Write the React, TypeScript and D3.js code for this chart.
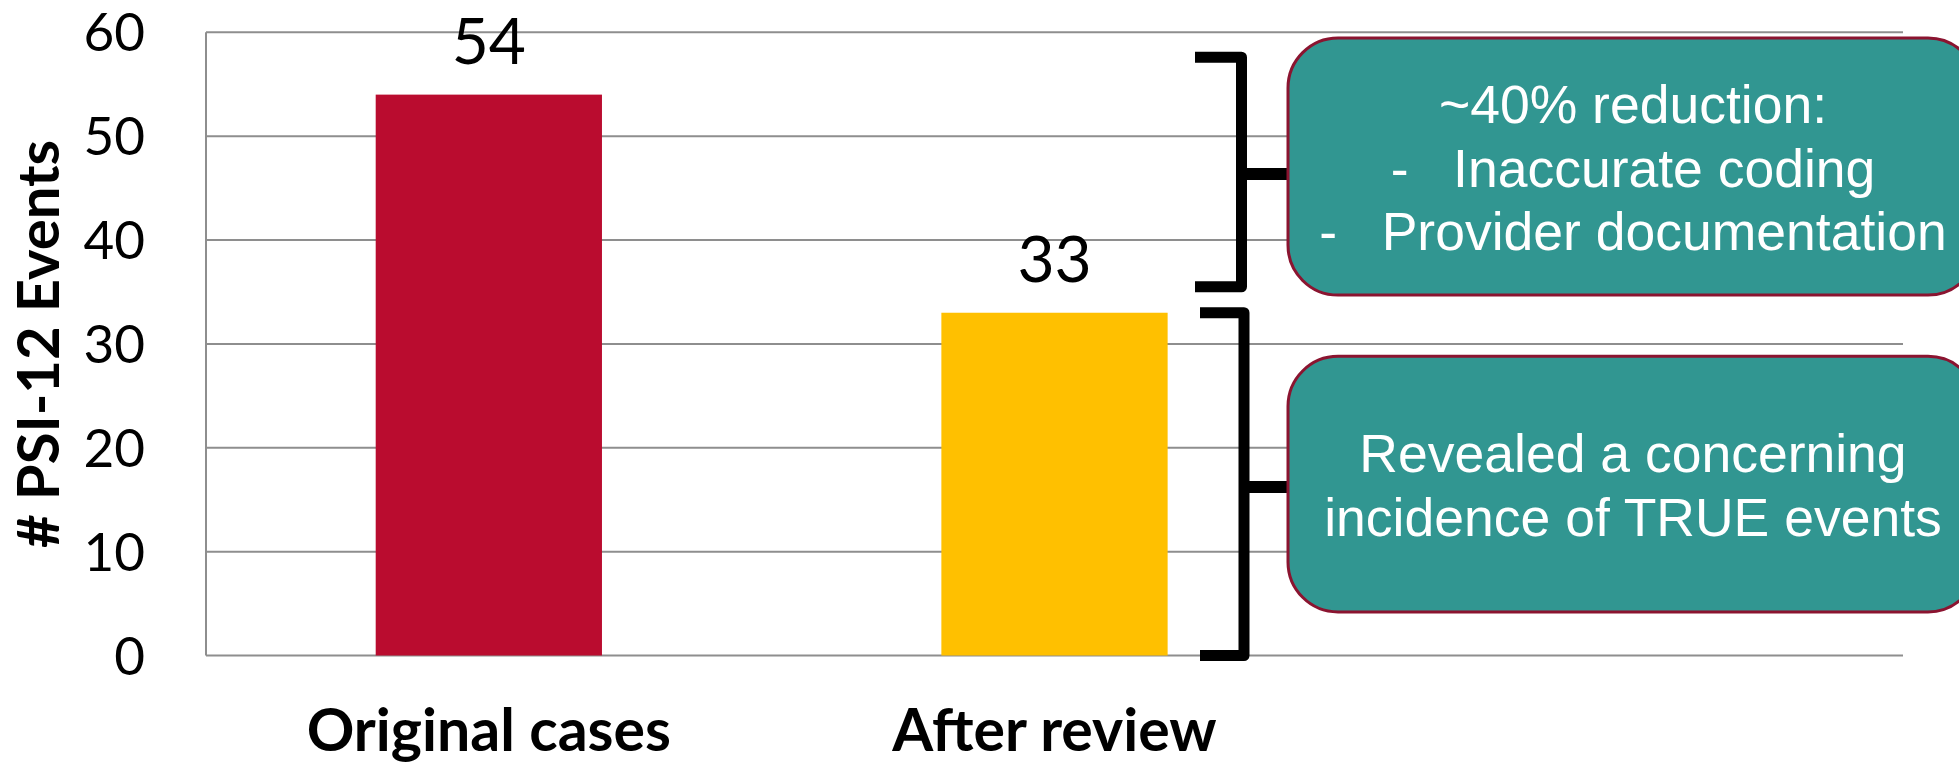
import { useEffect, useRef } from 'react'
import * as d3 from 'd3'

const categories = ['Original cases', 'After review']
const values = [54, 33]
const barColors = ['#BA0C2F', '#FFC000']
const yTicks = [0, 10, 20, 30, 40, 50, 60]
const yTitle = '# PSI-12 Events'

// callouts: bracket span and box span in data units, plus box text
const noteSpans = [[35.5, 57.6], [0, 33]]
const noteBoxes = [[34.7, 59.45], [4.2, 28.8]]
const noteLines = [
  ['~40% reduction:', '-\u00a0\u00a0\u00a0Inaccurate coding', '-\u00a0\u00a0\u00a0Provider documentation'],
  ['Revealed a concerning', 'incidence of TRUE events'],
]

export default function App() {
  const ref = useRef<SVGSVGElement>(null)

  useEffect(() => {
    if (!ref.current) return
    const width = 1959, height = 768
    const margin = { top: 32.3, right: 56, bottom: 112.5, left: 206 }
    const svg = d3.select(ref.current)
    svg.selectAll('*').remove()

    const plotRight = width - margin.right
    const x = d3.scaleBand()
      .domain(categories)
      .range([margin.left, margin.left + (plotRight - margin.left) * 2 / 3])
      .paddingInner(0.6)
      .paddingOuter(0.3)

    const y = d3.scaleLinear()
      .domain([0, 60])
      .range([height - margin.bottom, margin.top])

    // gridlines
    svg.append('g')
      .selectAll('line')
      .data(yTicks)
      .join('line')
      .attr('x1', margin.left)
      .attr('x2', plotRight)
      .attr('y1', d => y(d))
      .attr('y2', d => y(d))
      .attr('stroke', '#8e8e8e')
      .attr('stroke-width', 2)

    svg.append('line')
      .attr('x1', margin.left).attr('x2', margin.left)
      .attr('y1', y(60)).attr('y2', y(0))
      .attr('stroke', '#8e8e8e')
      .attr('stroke-width', 2)

    // tick labels
    svg.append('g')
      .selectAll('text')
      .data(yTicks)
      .join('text')
      .attr('x', 145)
      .attr('y', d => y(d))
      .attr('dy', '0.36em')
      .attr('text-anchor', 'end')
      .style('font-family', 'Lato, sans-serif')
      .style('font-size', '53px')
      .text(d => d)

    // bars
    svg.append('g')
      .selectAll('rect')
      .data(values)
      .join('rect')
      .attr('x', (d, i) => x(categories[i]))
      .attr('y', d => y(d))
      .attr('width', x.bandwidth())
      .attr('height', d => y(0) - y(d))
      .attr('fill', (d, i) => barColors[i])

    // value labels
    svg.append('g')
      .selectAll('text')
      .data(values)
      .join('text')
      .attr('x', (d, i) => x(categories[i]) + x.bandwidth() / 2)
      .attr('y', d => y(d) - 31)
      .attr('text-anchor', 'middle')
      .style('font-family', 'Lato, sans-serif')
      .style('font-size', '64px')
      .text(d => d)

    // category labels
    svg.append('g')
      .selectAll('text')
      .data(categories)
      .join('text')
      .attr('x', d => x(d) + x.bandwidth() / 2)
      .attr('y', 751)
      .attr('text-anchor', 'middle')
      .style('font-family', 'Lato, sans-serif')
      .style('font-weight', 'bold')
      .style('font-size', '59px')
      .text(d => d)

    // y title
    svg.append('text')
      .attr('transform', `translate(59,${(y(0) + y(60)) / 2}) rotate(-90)`)
      .attr('text-anchor', 'middle')
      .style('font-family', 'Lato, sans-serif')
      .style('font-weight', 'bold')
      .style('font-size', '58px')
      .text(yTitle)

    // brackets and callout boxes
    const bracketX = [1241.5, 1244]
    const bracketLeft = [1195, 1200]
    const boxLeft = 1288, boxRight = 1978
    noteSpans.forEach((span, i) => {
      const top = y(span[1]), bot = y(span[0])
      const bx = bracketX[i], lx = bracketLeft[i]
      svg.append('path')
        .attr('d', `M${lx},${top}H${bx}V${bot}H${lx}`)
        .attr('fill', 'none')
        .attr('stroke', '#000')
        .attr('stroke-width', 11)
        .attr('stroke-linejoin', 'round')
      const mid = (top + bot) / 2 + (i === 0 ? 2 : 3)
      svg.append('line')
        .attr('x1', bx).attr('x2', boxLeft)
        .attr('y1', mid).attr('y2', mid)
        .attr('stroke', '#000')
        .attr('stroke-width', 12)

      const b = noteBoxes[i]
      const by = y(b[1]), bh = y(b[0]) - y(b[1])
      svg.append('rect')
        .attr('x', boxLeft)
        .attr('y', by)
        .attr('width', boxRight - boxLeft)
        .attr('height', bh)
        .attr('rx', 50)
        .attr('ry', 50)
        .attr('fill', '#319691')
        .attr('stroke', '#8B1430')
        .attr('stroke-width', 3)

      const lines = noteLines[i]
      const lh = 63.5
      const cy = by + bh / 2
      const firstBase = cy + 20 - (lines.length - 1) * lh / 2
      svg.append('g')
        .selectAll('text')
        .data(lines)
        .join('text')
        .attr('x', (boxLeft + boxRight) / 2)
        .attr('y', (d, j) => firstBase + j * lh)
        .attr('text-anchor', 'middle')
        .attr('fill', '#fff')
        .style('font-family', '"Liberation Sans", Arial, sans-serif')
        .style('font-size', '53.5px')
        .text(d => d)
    })
  }, [])

  return (
    <svg
      ref={ref}
      width={1959}
      height={768}
      style={{ position: 'absolute', left: 0, top: 0, background: '#fff' }}
    ></svg>
  )
}
